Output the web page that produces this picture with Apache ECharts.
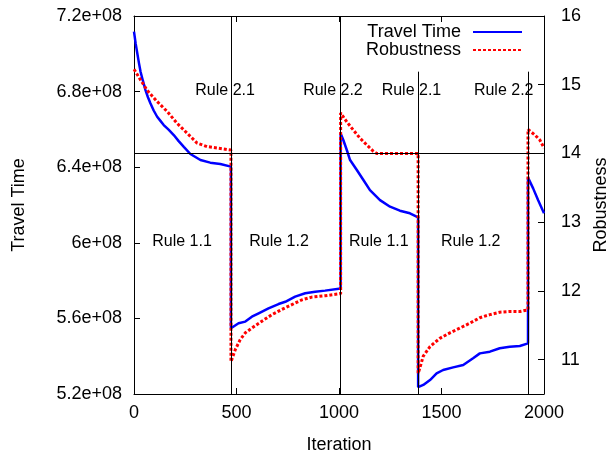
<!DOCTYPE html>
<html>
<head>
<meta charset="utf-8">
<script src="https://cdn.jsdelivr.net/npm/echarts@6/dist/echarts.min.js"></script>
<style>
  html, body { margin: 0; padding: 0; background: #fff; }
  #chart { width: 615px; height: 452px; }
</style>
</head>
<body>
<div id="chart"></div>
<script>
// travel time (left axis)
var ttIter = [0, 8, 16, 24, 32, 44, 56, 68, 80, 96, 113, 129, 145, 170, 194, 218, 243, 275, 324, 372, 421, 473,
  473, 510, 543, 575, 608, 656, 705, 738, 786, 835, 884, 932, 1008,
  1008, 1021, 1038, 1054, 1087, 1119, 1151, 1200, 1249, 1297, 1346, 1386,
  1386, 1392, 1411, 1444, 1476, 1508, 1557, 1606, 1654, 1687, 1736, 1784, 1833, 1882, 1922,
  1922, 1947, 1971, 2000];
var ttValue = [7.117e8, 7.055e8, 7.003e8, 6.952e8, 6.905e8, 6.855e8, 6.808e8, 6.770e8, 6.738e8, 6.700e8, 6.667e8, 6.645e8, 6.623e8, 6.597e8, 6.570e8, 6.538e8, 6.508e8, 6.470e8, 6.438e8, 6.424e8, 6.417e8, 6.403e8,
  5.548e8, 5.574e8, 5.583e8, 5.609e8, 5.627e8, 5.653e8, 5.676e8, 5.688e8, 5.715e8, 5.733e8, 5.741e8, 5.747e8, 5.758e8,
  6.579e8, 6.544e8, 6.491e8, 6.438e8, 6.385e8, 6.332e8, 6.279e8, 6.226e8, 6.191e8, 6.170e8, 6.156e8, 6.135e8,
  5.236e8, 5.240e8, 5.248e8, 5.274e8, 5.309e8, 5.327e8, 5.341e8, 5.353e8, 5.389e8, 5.415e8, 5.424e8, 5.442e8, 5.450e8, 5.454e8, 5.468e8,
  6.345e8, 6.288e8, 6.226e8, 6.156e8];

// robustness (right axis)
var robIter = [0, 32, 64, 113, 162, 210, 259, 308, 356, 405, 473,
  473, 494, 518, 543, 575, 624, 673, 721, 770, 819, 868, 932, 1008,
  1008, 1038, 1070, 1103, 1135, 1168, 1184, 1386,
  1386, 1392, 1411, 1444, 1492, 1541, 1590, 1638, 1687, 1736, 1784, 1833, 1882, 1922,
  1922, 1955, 1979, 2000];
var robValue = [15.225, 15.07, 14.92, 14.755, 14.61, 14.44, 14.295, 14.15, 14.10, 14.08, 14.05,
  10.97, 11.145, 11.29, 11.39, 11.46, 11.56, 11.655, 11.73, 11.80, 11.87, 11.91, 11.93, 11.96,
  14.59, 14.46, 14.34, 14.22, 14.125, 14.03, 14.0, 14.0,
  10.80, 10.855, 11.05, 11.19, 11.31, 11.39, 11.46, 11.53, 11.61, 11.655, 11.69, 11.70, 11.70, 11.725,
  14.35, 14.27, 14.20, 14.08];

// rule switch lines (robustness units) and labels (travel time units)
var switchIter = [473, 1008, 1386, 1922];
var switchTop = [16, 16, 15.19, 15.19];
var robLevel = 14;
var ruleNames = ['Rule 2.1', 'Rule 2.2', 'Rule 2.1', 'Rule 2.2', 'Rule 1.1', 'Rule 1.2', 'Rule 1.1', 'Rule 1.2'];
var ruleIter = [299, 825, 1208, 1658, 89, 562, 1049, 1497];
var ruleTT = [6.803e8, 6.803e8, 6.803e8, 6.803e8, 6.004e8, 6.004e8, 6.004e8, 6.004e8];

var y2Ticks = [11, 12, 13, 14, 15, 16];

function pairs (xs, ys) {
  var out = [];
  for (var i = 0; i < xs.length; i++) {
    out.push([xs[i], ys[i]]);
  }
  return out;
}

var font = '"Liberation Sans", Arial, sans-serif';
var axisText = {color: '#000', fontSize: 18, fontFamily: font};
var blackLine = {onZero: false, lineStyle: {color: '#000', width: 1}};

var markLines = [{yAxis: robLevel}];
for (var i = 0; i < switchIter.length; i++) {
  markLines.push([{coord: [switchIter[i], 10.5]}, {coord: [switchIter[i], switchTop[i]]}]);
}

var labelData = [];
for (var j = 0; j < ruleNames.length; j++) {
  labelData.push({name: ruleNames[j], value: [ruleIter[j], ruleTT[j]]});
}

var chart = echarts.init(document.getElementById('chart'), null, {renderer: 'canvas'});
chart.setOption({
  backgroundColor: '#fff',
  animation: false,
  grid: {left: 134, right: 71, top: 16, bottom: 58, outerBoundsMode: 'none'},
  legend: {
    data: ['Travel Time', 'Robustness'],
    orient: 'vertical',
    right: 87,
    top: 18,
    align: 'right',
    itemWidth: 49,
    itemHeight: 10,
    itemGap: 0,
    itemStyle: {opacity: 0},
    textStyle: {color: '#000', fontSize: 18, fontFamily: font, lineHeight: 18, padding: [0, 7, 0, 0]}
  },
  xAxis: [{
    type: 'value',
    min: 0,
    max: 2000,
    interval: 500,
    name: 'Iteration',
    nameLocation: 'middle',
    nameGap: 42,
    nameTextStyle: axisText,
    axisLine: blackLine,
    axisTick: {inside: true, length: 6, lineStyle: {color: '#000'}},
    axisLabel: Object.assign({
      margin: 10,
      formatter: function (v) {
        return String(v);
      }
    }, axisText),
    splitLine: {show: false}
  }, {
    type: 'value',
    position: 'top',
    min: 0,
    max: 2000,
    interval: 500,
    axisLine: blackLine,
    axisTick: {inside: true, length: 6, lineStyle: {color: '#000'}},
    axisLabel: {show: false},
    splitLine: {show: false}
  }],
  yAxis: [{
    type: 'value',
    min: 5.2e8,
    max: 7.2e8,
    interval: 0.4e8,
    name: 'Travel Time',
    nameLocation: 'middle',
    nameRotate: 90,
    nameGap: 106,
    nameTextStyle: axisText,
    axisLine: blackLine,
    axisTick: {inside: true, length: 6, lineStyle: {color: '#000'}},
    axisLabel: Object.assign({
      margin: 12,
      formatter: function (v) {
        return (Math.round(v / 1e7) / 10) + 'e+08';
      }
    }, axisText),
    splitLine: {show: false}
  }, {
    type: 'value',
    position: 'right',
    min: 10.5,
    max: 16,
    name: 'Robustness',
    nameLocation: 'middle',
    nameRotate: 90,
    nameGap: 45,
    nameTextStyle: axisText,
    axisLine: Object.assign({show: true}, blackLine),
    axisTick: {inside: true, length: 6, lineStyle: {color: '#000'}, customValues: y2Ticks},
    axisLabel: Object.assign({margin: 17, customValues: y2Ticks}, axisText),
    splitLine: {show: false}
  }],
  series: [
    {
      name: 'guides',
      type: 'line',
      yAxisIndex: 1,
      data: [],
      silent: true,
      markLine: {
        silent: true,
        symbol: ['none', 'none'],
        label: {show: false},
        lineStyle: {color: '#000', width: 1, type: 'solid'},
        emphasis: {disabled: true},
        data: markLines
      }
    },
    {
      name: 'Travel Time',
      type: 'line',
      yAxisIndex: 0,
      showSymbol: false,
      symbol: 'none',
      lineStyle: {color: '#0000ff', width: 2.5},
      itemStyle: {color: '#0000ff'},
      data: pairs(ttIter, ttValue)
    },
    {
      name: 'Robustness',
      type: 'line',
      yAxisIndex: 1,
      showSymbol: false,
      symbol: 'none',
      lineStyle: {color: '#ff0000', width: 3, type: [3, 2]},
      itemStyle: {color: '#ff0000'},
      data: pairs(robIter, robValue)
    },
    {
      name: 'rules',
      type: 'scatter',
      yAxisIndex: 0,
      symbolSize: 0,
      silent: true,
      itemStyle: {opacity: 1},
      label: {
        show: true,
        position: [0, 0],
        align: 'left',
        verticalAlign: 'middle',
        formatter: '{b}',
        color: '#000',
        fontSize: 16,
        fontFamily: font
      },
      data: labelData
    }
  ]
});
</script>
</body>
</html>
